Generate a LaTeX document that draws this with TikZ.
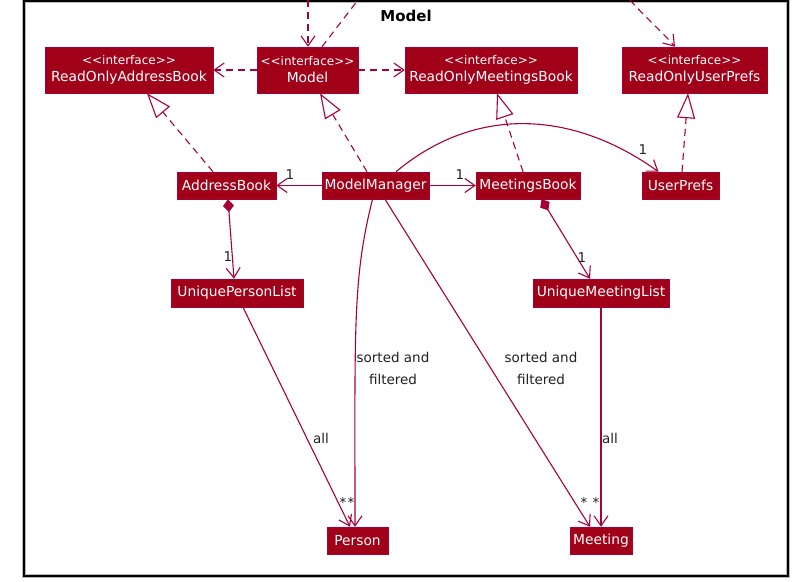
\documentclass[tikz,border=0pt]{standalone}
\usepackage{fontspec}
\newfontfamily\umlfont{DejaVu Sans}
\usetikzlibrary{arrows.meta,calc}
\definecolor{umlfill}{RGB}{160,0,24}
\definecolor{umlline}{RGB}{168,0,54}
\definecolor{umltext}{RGB}{34,34,34}
% stereotype text; the kerns keep << and >> from turning into guillemets
\newcommand\ster{{\fontsize{12}{17}\selectfont <\kern0pt<interface>\kern0pt>}}
\tikzset{
  cls/.style={draw=umlline, line width=0.5pt, fill=umlfill, text=white, inner sep=0pt,
    font=\umlfont\fontsize{13.8}{17}\selectfont},
  iface/.style={cls, minimum height=46pt, align=center},
  plain/.style={cls, minimum height=27pt},
  link/.style={draw=umlline, line width=1.1pt},
  dep/.style={link, dash pattern=on 7pt off 5pt},
  tovee/.style={-{Straight Barb[length=10pt,width=14pt]}},
  realize/.style={dep, -{Triangle[open,length=25pt,width=18pt,fill=white]}},
  compose/.style={link, {Diamond[length=13pt,width=11pt]}-{Straight Barb[length=10pt,width=14pt]}},
  lbl/.style={font=\umlfont\fontsize{13.5}{22}\selectfont, text=umltext, inner sep=0pt},
}
\begin{document}
\begin{tikzpicture}[x=1pt,y=-1pt]
\useasboundingbox (0,0) rectangle (805,581);
\fill[white] (0,0) rectangle (805,581);

% package frame
\draw[gray!55, line width=3.5pt] (24,1) rectangle (788,576);
\draw[black, line width=1.3pt] (24,1) rectangle (788,576);
\node[font=\umlfont\bfseries\fontsize{15}{18}\selectfont, inner sep=0pt] (title) at (406,16) {Model};

% interfaces
\node[iface, minimum width=168pt] (rab) at (129,70) {\ster\\ReadOnlyAddressBook};
\node[iface, minimum width=101pt] (model) at (307.5,70) {\ster\\Model};
\node[iface, minimum width=172pt] (rmb) at (491,70) {\ster\\ReadOnlyMeetingsBook};
\node[iface, minimum width=145pt] (rup) at (694.5,70) {\ster\\ReadOnlyUserPrefs};

% classes
\node[plain, minimum width=99pt] (ab) at (226.5,185.5) {AddressBook};
\node[plain, minimum width=107pt] (mm) at (375.5,185.5) {ModelManager};
\node[plain, minimum width=104pt] (mb) at (528,185.5) {MeetingsBook};
\node[plain, minimum width=77pt] (up) at (680.5,185.5) {UserPrefs};
\node[plain, minimum width=132pt, minimum height=28pt] (upl) at (237,293) {UniquePersonList};
\node[plain, minimum width=136pt, minimum height=28pt] (uml) at (601,293) {UniqueMeetingList};
\node[plain, minimum width=61pt] (person) at (357.5,540.5) {Person};
\node[plain, minimum width=62pt] (meeting) at (601,540.5) {Meeting};

% links leaving the package
\coordinate (in1) at (308,0);
\coordinate (out1) at (358,0);
\coordinate (in2) at (630,0);
\draw[dep, tovee] (in1) -- ([xshift=0.5pt]model.north);
\draw[dep] ([xshift=14.5pt]model.north) -- (out1);
\draw[dep, tovee] (in2) .. controls +(14,16) and +(-12,-14) .. ([xshift=-19.5pt]rup.north);

% dependencies of Model
\draw[dep, tovee] (model.west) -- (rab.east);
\draw[dep, tovee] (model.east) -- (rmb.west);

% realizations
\draw[realize] ([xshift=-13.5pt]ab.north) -- ([xshift=18pt]rab.south);
\draw[realize] ([xshift=-8.5pt]mm.north) -- ([xshift=12.5pt]model.south);
\draw[realize] ([xshift=-5pt]mb.north) -- ([xshift=6pt]rmb.south);
\draw[realize] ([xshift=1.5pt]up.north) -- ([xshift=-6.5pt]rup.south);

% associations of ModelManager
\draw[link, tovee] (mm.west) -- (ab.east);
\node[lbl] (m1) at (290,175) {1};
\draw[link, tovee] (mm.east) -- (mb.west);
\node[lbl] (m2) at (460,175) {1};
\draw[link, tovee] ([xshift=20.5pt]mm.north) .. controls +(80,-67) and +(-85,-61) .. ([xshift=-22pt]up.north);
\node[lbl] (m3) at (643,150) {1};

% compositions
\draw[compose] ([xshift=1.5pt]ab.south) -- ([xshift=-3pt]upl.north);
\node[lbl] (m4) at (228,257) {1};
\draw[compose] ([xshift=13.5pt]mb.south) -- ([xshift=-11pt]uml.north);
\node[lbl] (m5) at (582,258) {1};

% lists of persons and meetings
\draw[link, tovee] ([xshift=6pt]upl.south) -- ([xshift=-7.5pt]person.north);
\node[lbl] (a1) at (321,438) {all};
\node[lbl] (s1) at (343,502) {*};
\draw[link, tovee] ([xshift=-3pt]mm.south) .. controls +(-20,80) and +(0,-200) .. ([xshift=-2.5pt]person.north);
\node[lbl, align=center] (f1) at (393,368) {sorted and\\filtered};
\node[lbl] (s2) at (351,502) {*};

\draw[link, tovee] ([xshift=9.5pt]mm.south) -- ([xshift=-11pt]meeting.north);
\node[lbl, align=center] (f2) at (541,368) {sorted and\\filtered};
\node[lbl] (s3) at (584,502) {*};
\draw[link, tovee] (uml.south) -- (meeting.north);
\node[lbl] (a2) at (610,438) {all};
\node[lbl] (s4) at (596,502) {*};
\end{tikzpicture}
\end{document}
